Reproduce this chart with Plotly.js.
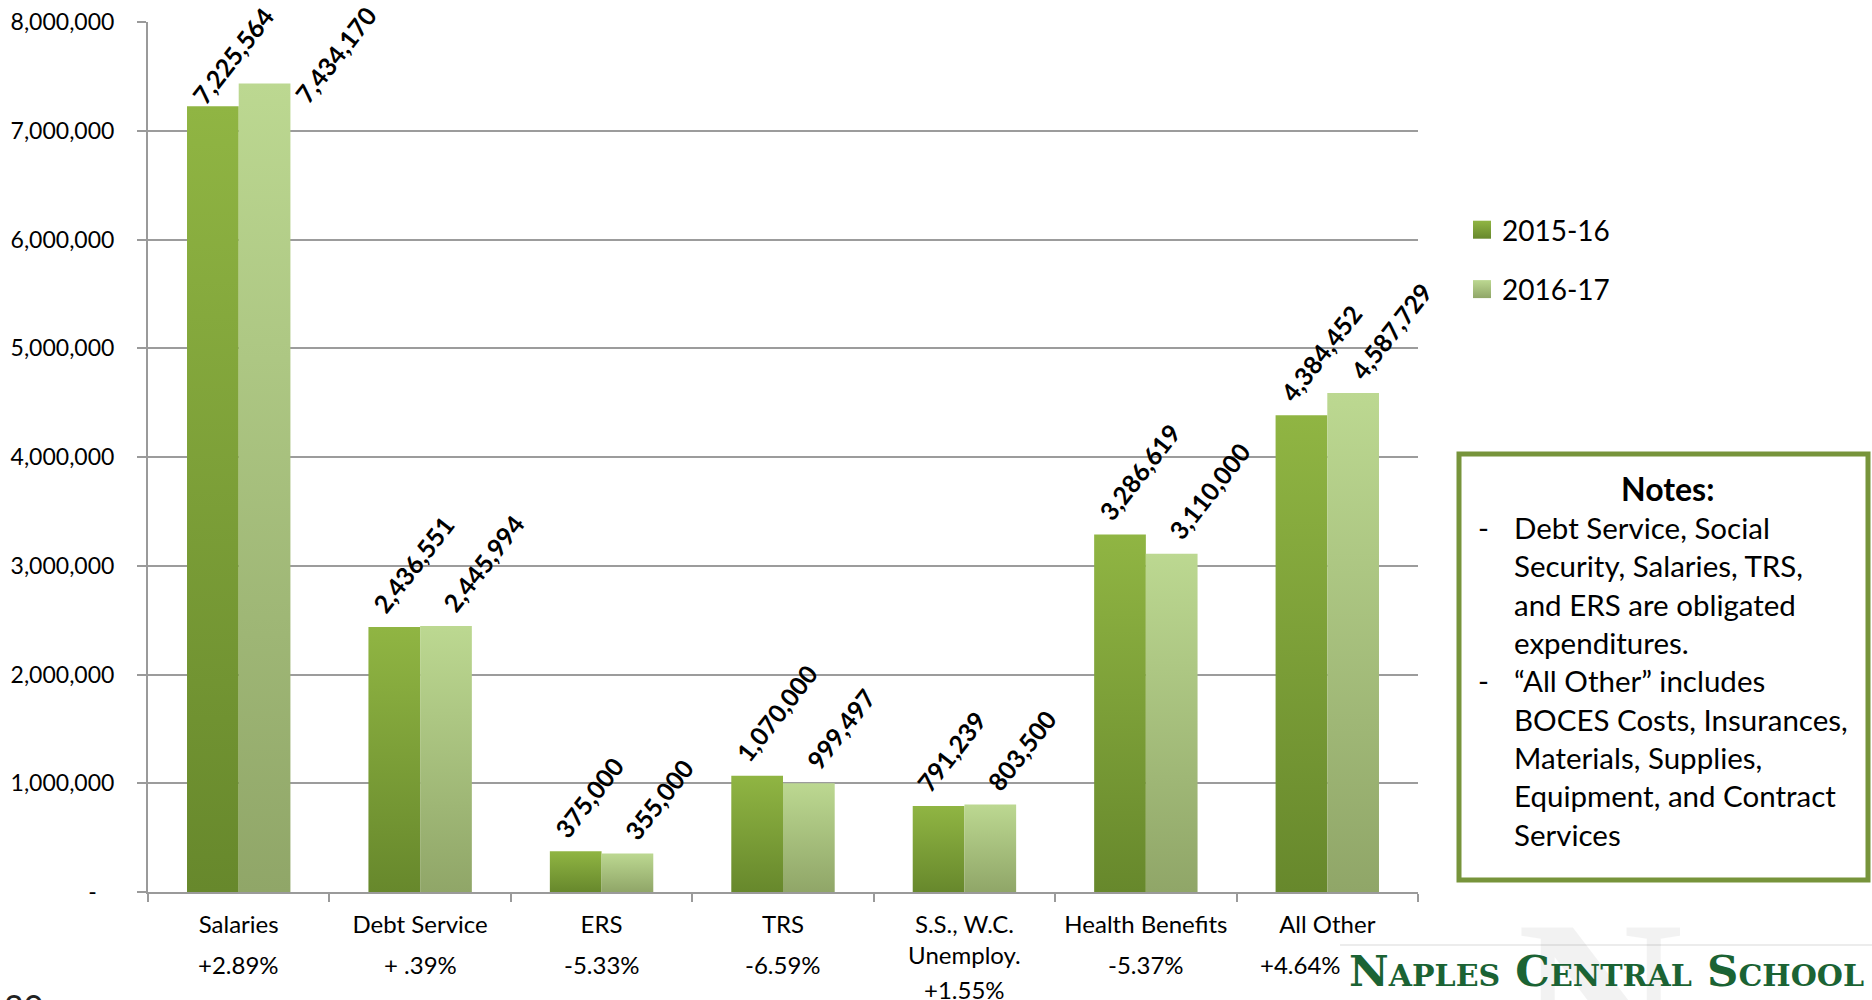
<!DOCTYPE html>
<html>
<head>
<meta charset="utf-8">
<script src="https://cdn.plot.ly/plotly-3.0.1.min.js"></script>
<style>
  html, body { margin: 0; padding: 0; background: #ffffff; }
  #chart { width: 1872px; height: 1000px; }
</style>
</head>
<body>
<div id="chart"></div>
<script>
// ---------------- data ----------------
const categories = ['Salaries', 'Debt Service', 'ERS', 'TRS', 'S.S., W.C. Unemploy.', 'Health Benefits', 'All Other'];
const categoryLabels = ['Salaries', 'Debt Service', 'ERS', 'TRS', 'S.S., W.C.<br>Unemploy.', 'Health Benefits', 'All Other'];
const pctChange = ['+2.89%', '+ .39%', '-5.33%', '-6.59%', '+1.55%', '-5.37%', '+4.64%'];
const seriesNames = ['2015-16', '2016-17'];
const values2015 = [7225564, 2436551, 375000, 1070000, 791239, 3286619, 4384452];
const values2016 = [7434170, 2445994, 355000, 999497, 803500, 3110000, 4587729];
const yTickVals = [0, 1000000, 2000000, 3000000, 4000000, 5000000, 6000000, 7000000, 8000000];
const yTickText = ['-\u00a0\u00a0\u00a0', '1,000,000', '2,000,000', '3,000,000', '4,000,000', '5,000,000', '6,000,000', '7,000,000', '8,000,000'];
const notesTitle = 'Notes:';
const notesBody = 'Debt Service, Social<br>Security, Salaries, TRS,<br>and ERS are obligated<br>expenditures.<br>\u201cAll Other\u201d includes<br>BOCES Costs, Insurances,<br>Materials, Supplies,<br>Equipment, and Contract<br>Services';
const logoText = 'Naples Central School';
const pageNumber = '20';

// ---------------- styling ----------------
const FONT = 'Lato, "Open Sans", sans-serif';
const colDark = '#7c9e36';
const colLight = '#a6bf7c';
const gradDark = ['#90b543', '#67882c'];
const gradLight = ['#bcd891', '#90a668'];

// plot area in pixels
const L = 148, R = 454, T = 22, B = 108, W = 1872, H = 1000;
const PW = W - L - R, PH = H - T - B;
const px = (x) => (x - L) / PW;          // page px -> paper x
const py = (y) => (H - B - y) / PH;      // page px -> paper y

const traces = [
  { type: 'bar', name: seriesNames[0], x: categories, y: values2015, legendgroup: 'a',
    marker: { color: colDark, line: { width: 0 } }, hoverinfo: 'skip' },
  { type: 'bar', name: seriesNames[1], x: categories, y: values2016, legendgroup: 'b',
    marker: { color: colLight, line: { width: 0 } }, hoverinfo: 'skip' }
];

const annotations = [];
// data labels (rotated, just above each bar)
const allSeries = [values2015, values2016];
const labelXShift = [-56, 14];
const yMax = 8000000;
allSeries.forEach((vals, s) => {
  vals.forEach((v, i) => {
    let xs = labelXShift[s];
    let ys = 6;
    // labels that would run off the top of the chart are pushed down (and aside)
    if (v / yMax > 0.9) {
      if (s === 0) { ys = -6; } else { xs += 33; ys = -28; }
    }
    annotations.push({
      xref: 'x', yref: 'y', x: categories[i], y: v,
      text: v.toLocaleString('en-US'), showarrow: false,
      textangle: -52, xanchor: 'left', yanchor: 'bottom',
      xshift: xs, yshift: ys,
      font: { family: FONT, size: 25, color: '#000000', weight: 'bold' }
    });
  });
});
// percent change below category labels
categories.forEach((c, i) => {
  const lines = categoryLabels[i].split('<br>').length;
  annotations.push({
    xref: 'x', yref: 'paper', x: c, y: py(lines > 1 ? 989 : 965),
    xshift: (i === categories.length - 1) ? -27 : 0,
    text: pctChange[i], showarrow: false, xanchor: 'center', yanchor: 'middle',
    font: { family: FONT, size: 24, color: '#000000' }
  });
});
// notes box text
annotations.push({
  xref: 'paper', yref: 'paper', x: px(1667), y: py(488), text: '<b>' + notesTitle + '</b>',
  showarrow: false, xanchor: 'center', yanchor: 'middle',
  font: { family: FONT, size: 32, color: '#000000' }
});
annotations.push({
  xref: 'paper', yref: 'paper', x: px(1512), y: py(508), text: notesBody,
  showarrow: false, xanchor: 'left', yanchor: 'top', align: 'left',
  font: { family: FONT, size: 29.5, color: '#000000' }
});
annotations.push({
  xref: 'paper', yref: 'paper', x: px(1476), y: py(508), text: '-<br> <br> <br> <br>-',
  showarrow: false, xanchor: 'left', yanchor: 'top', align: 'left',
  font: { family: FONT, size: 29.5, color: '#000000' }
});
// logo watermark + text
annotations.push({
  xref: 'paper', yref: 'paper', x: px(1600), y: py(872), text: 'N',
  showarrow: false, xanchor: 'center', yanchor: 'top',
  font: { family: '"Liberation Serif", serif', size: 230, color: 'rgba(0,0,0,0.05)', weight: 'bold' }
});
annotations.push({
  xref: 'paper', yref: 'paper', x: px(1347), y: py(970), text: logoText,
  showarrow: false, xanchor: 'left', yanchor: 'middle',
  font: { family: '"DejaVu Serif", "Liberation Serif", serif', size: 43.5, color: '#1b6334', weight: 'bold', variant: 'small-caps' }
});
// page number (cropped at bottom)
annotations.push({
  xref: 'paper', yref: 'paper', x: px(2), y: py(984), text: pageNumber,
  showarrow: false, xanchor: 'left', yanchor: 'top',
  font: { family: FONT, size: 34, color: '#222222' }
});

const shapes = [
  { type: 'rect', xref: 'paper', yref: 'paper', x0: px(1459), x1: px(1868), y0: py(880), y1: py(454),
    line: { color: '#77943b', width: 5 }, fillcolor: '#ffffff', layer: 'above' },
  { type: 'line', xref: 'paper', yref: 'paper', x0: px(1340), x1: px(1872), y0: py(945), y1: py(945),
    line: { color: 'rgba(0,0,0,0.10)', width: 1.5 }, layer: 'below' }
];

const layout = {
  width: W, height: H,
  margin: { l: L, r: R, t: T, b: B, pad: 0 },
  paper_bgcolor: '#ffffff', plot_bgcolor: '#ffffff',
  barmode: 'group', bargap: 0.43, bargroupgap: 0,
  font: { family: FONT, color: '#000000' },
  showlegend: true,
  legend: {
    x: px(1462), y: py(205), xanchor: 'left', yanchor: 'top',
    traceorder: 'grouped', tracegroupgap: 20,
    font: { family: FONT, size: 28, color: '#000000' },
    bgcolor: 'rgba(0,0,0,0)', borderwidth: 0
  },
  xaxis: {
    type: 'category', autorange: false, range: [-0.5, categories.length - 0.5],
    tickmode: 'array', tickvals: categories, ticktext: categoryLabels,
    tickson: 'boundaries', ticks: 'outside', ticklen: 8, tickwidth: 2, tickcolor: '#9a9a9a',
    showline: true, linecolor: '#9a9a9a', linewidth: 2, showgrid: false, zeroline: false,
    tickfont: { family: FONT, size: 24, color: '#000000' }, ticklabelstandoff: 10,
    fixedrange: true
  },
  yaxis: {
    autorange: false, range: [0, yMax], tickmode: 'array', tickvals: yTickVals, ticktext: yTickText,
    ticks: 'outside', ticklen: 9, tickwidth: 2, tickcolor: '#9a9a9a',
    showline: true, linecolor: '#9a9a9a', linewidth: 2,
    showgrid: true, gridcolor: '#9c9c9c', gridwidth: 2, zeroline: false,
    tickfont: { family: FONT, size: 23, color: '#000000' }, ticklabelstandoff: 18,
    fixedrange: true
  },
  annotations: annotations,
  shapes: shapes
};

Plotly.newPlot('chart', traces, layout, { displayModeBar: false, staticPlot: true }).then(function (gd) {
  // vertical gradient fills on bars and legend swatches (Excel-style)
  const svg = gd.querySelector('.main-svg');
  const NS = 'http://www.w3.org/2000/svg';
  let defs = svg.querySelector('defs');
  if (!defs) { defs = document.createElementNS(NS, 'defs'); svg.insertBefore(defs, svg.firstChild); }
  [gradDark, gradLight].forEach(function (g, k) {
    const lg = document.createElementNS(NS, 'linearGradient');
    lg.setAttribute('id', 'bargrad' + k);
    lg.setAttribute('x1', '0'); lg.setAttribute('y1', '0');
    lg.setAttribute('x2', '0'); lg.setAttribute('y2', '1');
    const s1 = document.createElementNS(NS, 'stop');
    s1.setAttribute('offset', '0'); s1.setAttribute('stop-color', g[0]);
    const s2 = document.createElementNS(NS, 'stop');
    s2.setAttribute('offset', '1'); s2.setAttribute('stop-color', g[1]);
    lg.appendChild(s1); lg.appendChild(s2); defs.appendChild(lg);
  });
  gd.querySelectorAll('.barlayer .trace').forEach(function (t, k) {
    t.querySelectorAll('path').forEach(function (p) { p.style.fill = 'url(#bargrad' + k + ')'; });
  });
  gd.querySelectorAll('.legend .traces').forEach(function (t, k) {
    t.querySelectorAll('.legendpoints path').forEach(function (p) {
      p.setAttribute('d', 'M9,9H-9V-9H9Z');
      p.style.fill = 'url(#bargrad' + k + ')';
    });
  });
});
</script>
</body>
</html>
